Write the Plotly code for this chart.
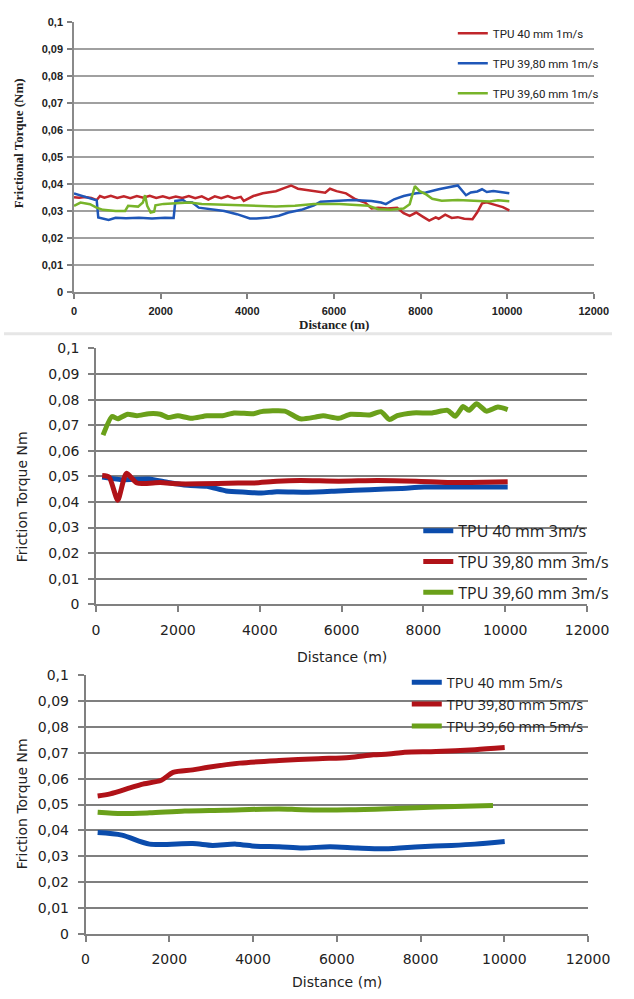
import plotly.graph_objects as go

# ---------------- data ----------------
# Panel 1: 1 m/s
P1_RED_X = [0, 120, 250, 400, 524, 600, 700, 850, 1000, 1150, 1300, 1450, 1600, 1750, 1900, 2050, 2200,
            2350, 2500, 2650, 2800, 2950, 3100, 3250, 3400, 3550, 3700, 3850, 3920, 4140, 4360, 4660, 4880,
            5010, 5170, 5390, 5690, 5800, 5910, 6060, 6280, 6500, 6720, 6870, 7020, 7240, 7460, 7610, 7750,
            7900, 8050, 8200, 8350, 8420, 8570, 8720, 8860, 9010, 9200, 9310, 9420, 9530, 9640, 9750, 9900, 10050]
P1_RED_Y = [0.0352, 0.0350, 0.0352, 0.0349, 0.0341, 0.0356, 0.0350, 0.0357, 0.0349, 0.0355, 0.0348, 0.0356,
            0.0350, 0.0357, 0.0349, 0.0355, 0.0348, 0.0354, 0.0349, 0.0356, 0.0348, 0.0355, 0.0343, 0.0355,
            0.0348, 0.0356, 0.0347, 0.0353, 0.0338, 0.0356, 0.0366, 0.0374, 0.0387, 0.0395, 0.0383, 0.0378,
            0.0373, 0.0368, 0.0383, 0.0374, 0.0366, 0.0344, 0.0332, 0.0310, 0.0313, 0.0310, 0.0313, 0.0293,
            0.0283, 0.0295, 0.0280, 0.0265, 0.0277, 0.0272, 0.0287, 0.0275, 0.0278, 0.0272, 0.0270, 0.0296,
            0.0329, 0.0333, 0.0327, 0.0321, 0.0315, 0.0303]

P1_BLUE_X = [0, 150, 450, 524, 560, 800, 960, 1200, 1500, 1800, 2100, 2300, 2340, 2520, 2580, 2730, 2880,
             3180, 3470, 3760, 4060, 4210, 4510, 4730, 4950, 5250, 5540, 5690, 5980, 6430, 6870, 7090, 7200,
             7390, 7610, 7900, 8125, 8420, 8860, 8940, 9050, 9160, 9310, 9420, 9530, 9680, 9830, 10050]
P1_BLUE_Y = [0.0366, 0.0359, 0.0346, 0.0340, 0.0277, 0.0268, 0.0276, 0.0274, 0.0276, 0.0273, 0.0276,
             0.0275, 0.0338, 0.0341, 0.0334, 0.0332, 0.0313, 0.0307, 0.0301, 0.0289, 0.0273, 0.0273, 0.0277,
             0.0283, 0.0295, 0.0305, 0.0322, 0.0335, 0.0338, 0.0341, 0.0338, 0.0332, 0.0326, 0.0344, 0.0356,
             0.0366, 0.0369, 0.0381, 0.0395, 0.0378, 0.0359, 0.0369, 0.0373, 0.0381, 0.0371, 0.0375, 0.0371,
             0.0366]

P1_GREEN_X = [0, 150, 370, 520, 670, 960, 1180, 1250, 1480, 1590, 1640, 1690, 1770, 1850, 1880, 2070, 2360,
              2660, 2950, 3400, 3920, 4660, 5100, 5540, 6130, 6580, 6800, 7020, 7310, 7610, 7750, 7870, 7980,
              8130, 8270, 8490, 8860, 9230, 9600, 9790, 10050]
P1_GREEN_Y = [0.0320, 0.0332, 0.0326, 0.0313, 0.0305, 0.0301, 0.0301, 0.0320, 0.0317, 0.0332, 0.0359,
              0.0320, 0.0295, 0.0298, 0.0322, 0.0327, 0.0329, 0.0332, 0.0327, 0.0324, 0.0320, 0.0317, 0.0320,
              0.0327, 0.0327, 0.0322, 0.0320, 0.0307, 0.0305, 0.0310, 0.0326, 0.0393, 0.0374, 0.0362, 0.0346,
              0.0339, 0.0341, 0.0339, 0.0336, 0.0340, 0.0337]

# Panel 2: 3 m/s
P2_GREEN_X = [170, 390, 530, 770, 1000, 1290, 1570, 1760, 2000, 2330, 2710, 3090, 3370, 3850, 4040, 4610,
              4990, 5370, 5550, 5930, 6220, 6690, 6960, 7170, 7360, 7740, 8210, 8590, 8780, 8970, 9110, 9300,
              9540, 9820, 10060]
P2_GREEN_Y = [0.0661, 0.0734, 0.0725, 0.0743, 0.0737, 0.0745, 0.0743, 0.0730, 0.0737, 0.0727, 0.0737,
              0.0737, 0.0748, 0.0745, 0.0753, 0.0755, 0.0725, 0.0732, 0.0737, 0.0727, 0.0743, 0.0740, 0.0753,
              0.0722, 0.0737, 0.0748, 0.0748, 0.0758, 0.0735, 0.0773, 0.0758, 0.0784, 0.0755, 0.0771, 0.0761]

P2_RED_X = [150, 320, 530, 740, 1000, 1570, 2000, 2520, 3470, 3850, 4420, 4990, 5930, 6880, 7820, 8590,
            9160, 10060]
P2_RED_Y = [0.0503, 0.0497, 0.0407, 0.0512, 0.0474, 0.0476, 0.0471, 0.0471, 0.0474, 0.0474, 0.0481,
            0.0484, 0.0481, 0.0484, 0.0481, 0.0476, 0.0476, 0.0479]

P2_BLUE_X = [150, 620, 1290, 1760, 2240, 2710, 3180, 3660, 4040, 4420, 5180, 5930, 6690, 7450, 8020,
             8970, 10060]
P2_BLUE_Y = [0.0497, 0.0487, 0.0490, 0.0476, 0.0465, 0.0461, 0.0443, 0.0438, 0.0435, 0.0440, 0.0438,
             0.0443, 0.0448, 0.0453, 0.0458, 0.0458, 0.0458]

# Panel 3: 5 m/s
P3_RED_X = [290, 590, 1060, 1340, 1810, 2090, 2560, 2930, 3680, 4620, 5560, 6300, 6870, 7240, 7620, 8370,
            9300, 10010]
P3_RED_Y = [0.0533, 0.0541, 0.0564, 0.0578, 0.0594, 0.0624, 0.0634, 0.0644, 0.0660, 0.0670, 0.0677,
            0.0682, 0.0692, 0.0695, 0.0702, 0.0705, 0.0712, 0.0720]

P3_GREEN_X = [290, 870, 1530, 2370, 3310, 4620, 5180, 6300, 7430, 8370, 9730]
P3_GREEN_Y = [0.0470, 0.0465, 0.0468, 0.0475, 0.0478, 0.0483, 0.0480, 0.0480, 0.0485, 0.0490, 0.0496]

P3_BLUE_X = [290, 870, 1530, 2560, 3030, 3590, 4060, 4620, 5180, 5840, 6490, 7150, 7990, 8740, 9300, 10010]
P3_BLUE_Y = [0.0392, 0.0382, 0.0347, 0.0349, 0.0342, 0.0347, 0.0339, 0.0337, 0.0332, 0.0337, 0.0332,
             0.0329, 0.0337, 0.0342, 0.0347, 0.0357]

NAMES_1 = ["TPU 40 mm 1m/s", "TPU 39,80 mm 1m/s", "TPU 39,60 mm 1m/s"]
NAMES_3 = ["TPU 40 mm 3m/s", "TPU 39,80 mm 3m/s", "TPU 39,60 mm 3m/s"]
NAMES_5 = ["TPU 40 mm 5m/s", "TPU 39,80 mm 5m/s", "TPU 39,60 mm 5m/s"]

Y_TICKS = [0, 0.01, 0.02, 0.03, 0.04, 0.05, 0.06, 0.07, 0.08, 0.09, 0.1]
Y_TICK_LABELS = ["0", "0,01", "0,02", "0,03", "0,04", "0,05", "0,06", "0,07", "0,08", "0,09", "0,1"]

# ---------------- layout helpers ----------------
W, H = 634, 999


def fx(px):
    return px / W


def fy(py):
    return 1 - py / H


RED1, BLUE1, GREEN1 = "#C0262B", "#1F57B8", "#78B42A"
RED, BLUE, GREEN = "#B01218", "#0B4CAC", "#6AA01A"

fig = go.Figure()

# panel 1
fig.add_trace(go.Scatter(x=P1_RED_X, y=P1_RED_Y, name=NAMES_1[0], mode="lines",
                         line=dict(color=RED1, width=2.5), xaxis="x", yaxis="y",
                         legend="legend", legendgroup="a1"))
fig.add_trace(go.Scatter(x=P1_BLUE_X, y=P1_BLUE_Y, name=NAMES_1[1], mode="lines",
                         line=dict(color=BLUE1, width=2.5), xaxis="x", yaxis="y",
                         legend="legend", legendgroup="b1"))
fig.add_trace(go.Scatter(x=P1_GREEN_X, y=P1_GREEN_Y, name=NAMES_1[2], mode="lines",
                         line=dict(color=GREEN1, width=2.5), xaxis="x", yaxis="y",
                         legend="legend", legendgroup="c1"))
# panel 2
fig.add_trace(go.Scatter(x=P2_BLUE_X, y=P2_BLUE_Y, name=NAMES_3[0], mode="lines",
                         line=dict(color=BLUE, width=5, shape="spline", smoothing=0.6), xaxis="x2", yaxis="y2",
                         legend="legend2", legendgroup="a2"))
fig.add_trace(go.Scatter(x=P2_RED_X, y=P2_RED_Y, name=NAMES_3[1], mode="lines",
                         line=dict(color=RED, width=5, shape="spline", smoothing=0.6), xaxis="x2", yaxis="y2",
                         legend="legend2", legendgroup="b2"))
fig.add_trace(go.Scatter(x=P2_GREEN_X, y=P2_GREEN_Y, name=NAMES_3[2], mode="lines",
                         line=dict(color=GREEN, width=5, shape="spline", smoothing=0.6), xaxis="x2", yaxis="y2",
                         legend="legend2", legendgroup="c2"))
# panel 3
fig.add_trace(go.Scatter(x=P3_BLUE_X, y=P3_BLUE_Y, name=NAMES_5[0], mode="lines",
                         line=dict(color=BLUE, width=5, shape="spline", smoothing=0.8), xaxis="x3", yaxis="y3",
                         legend="legend3", legendgroup="a3"))
fig.add_trace(go.Scatter(x=P3_RED_X, y=P3_RED_Y, name=NAMES_5[1], mode="lines",
                         line=dict(color=RED, width=5, shape="spline", smoothing=0.8), xaxis="x3", yaxis="y3",
                         legend="legend3", legendgroup="b3"))
fig.add_trace(go.Scatter(x=P3_GREEN_X, y=P3_GREEN_Y, name=NAMES_5[2], mode="lines",
                         line=dict(color=GREEN, width=5, shape="spline", smoothing=0.8), xaxis="x3", yaxis="y3",
                         legend="legend3", legendgroup="c3"))

PANELS = {
    1: dict(x=(73, 615), y=(14, 289)),
    2: dict(x=(96, 608), y=(346, 606)),
    3: dict(x=(85, 609), y=(678, 941)),
}


def xaxis(n, bold):
    p = PANELS[n]
    font = dict(family="Liberation Sans", size=11, color="#222", weight="bold") if bold else \
        dict(family="DejaVu Sans", size=14, color="#222")
    return dict(domain=[fx(p["x"][0]), fx(p["x"][1])], range=[0, 12000], dtick=2000, tick0=0,
                tickformat="d", anchor="y" if n == 1 else f"y{n}",
                showgrid=False, zeroline=False, showline=True,
                linecolor="#8a8a8a" if bold else "#808080", linewidth=1.5,
                ticks="outside", ticklen=5 if bold else 6, tickcolor="#808080", tickwidth=1.5,
                tickfont=font, ticklabelstandoff=3 if bold else 6, fixedrange=True)


def yaxis(n, bold):
    p = PANELS[n]
    font = dict(family="Liberation Sans", size=11, color="#222", weight="bold") if bold else \
        dict(family="DejaVu Sans", size=14, color="#222")
    return dict(domain=[fy(p["y"][1]), fy(p["y"][0])], range=[0, 0.1],
                tickvals=Y_TICKS, ticktext=Y_TICK_LABELS, anchor="x" if n == 1 else f"x{n}",
                showgrid=True, gridcolor="#a0a0a0" if bold else "#7f7f7f",
                gridwidth=2 if bold else 1.5, zeroline=False, showline=True,
                linecolor="#8a8a8a" if bold else "#808080", linewidth=1.5,
                ticks="outside", ticklen=5 if bold else 6, tickcolor="#808080", tickwidth=1.5,
                tickfont=font, ticklabelstandoff=2 if bold else 6, fixedrange=True)


legend_common = dict(xanchor="left", yanchor="top", bgcolor="rgba(0,0,0,0)", borderwidth=0,
                     traceorder="grouped")

fig.update_layout(
    width=W, height=H,
    margin=dict(l=0, r=0, t=0, b=0),
    paper_bgcolor="white", plot_bgcolor="white",
    xaxis=xaxis(1, True), yaxis=yaxis(1, True),
    xaxis2=xaxis(2, False), yaxis2=yaxis(2, False),
    xaxis3=xaxis(3, False), yaxis3=yaxis(3, False),
    legend=dict(x=fx(468), y=fy(11), font=dict(family="Roboto", size=11.5, color="#222"),
                tracegroupgap=11, **legend_common),
    legend2=dict(x=fx(432), y=fy(514), font=dict(family="Open Sans", size=16, color="#222"),
                 tracegroupgap=7, **legend_common),
    legend3=dict(x=fx(420), y=fy(669), font=dict(family="Open Sans", size=14.5, color="#222"),
                 tracegroupgap=0, **legend_common),
    showlegend=True,
)

annots = [
    dict(text="Frictional Torque (Nm)", x=fx(15), y=fy(137), textangle=-90,
         font=dict(family="Liberation Serif", size=13, color="#222", weight="bold")),
    dict(text="Distance (m)", x=fx(344), y=fy(322),
         font=dict(family="Liberation Serif", size=13, color="#222", weight="bold")),
    dict(text="Friction Torque Nm", x=fx(19), y=fy(497), textangle=-90,
         font=dict(family="DejaVu Sans", size=14, color="#222")),
    dict(text="Distance (m)", x=fx(352), y=fy(660),
         font=dict(family="DejaVu Sans", size=14, color="#222")),
    dict(text="Friction Torque Nm", x=fx(19), y=fy(809), textangle=-90,
         font=dict(family="DejaVu Sans", size=14, color="#222")),
    dict(text="Distance (m)", x=fx(347), y=fy(990),
         font=dict(family="DejaVu Sans", size=14, color="#222")),
]
for a in annots:
    fig.add_annotation(xref="paper", yref="paper", showarrow=False, xanchor="center", yanchor="middle", **a)

fig.add_shape(type="line", xref="paper", yref="paper", x0=0, x1=1, y0=fy(331), y1=fy(331),
              line=dict(color="#e6e6e6", width=3))

fig.write_html("out.html", config={"displayModeBar": False},
               post_script="document.body.style.margin='0px';")
